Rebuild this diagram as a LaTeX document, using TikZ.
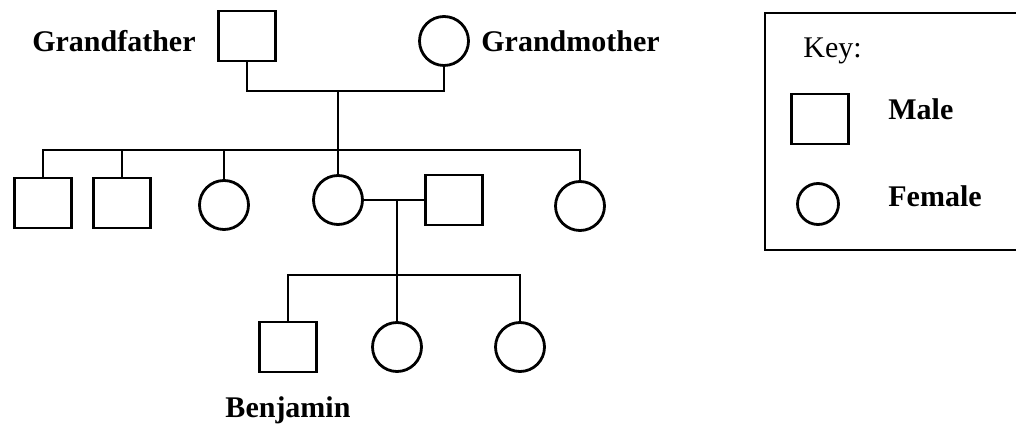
\documentclass[tikz,border=0pt]{standalone}
\usepackage{fontspec}
\setmainfont{Liberation Serif}
\usepackage{tikz}

\begin{document}
\begin{tikzpicture}[x=0.5pt,y=-0.5pt,line width=1.4pt,
    male/.style={rectangle,draw=black,minimum width=28.5pt,minimum height=25pt,inner sep=0pt},
    female/.style={circle,draw=black,minimum size=24.5pt,inner sep=0pt},
    lbl/.style={inner sep=0pt,font=\fontsize{15}{18}\selectfont\bfseries}]

      \useasboundingbox (0,0) rectangle (1016,426);

      % grandparents
      \node[male] (a) at (247,36){};
      \node[female] (b) at (444,41){};
      \node[lbl,anchor=base east] (ta) at (197,52){Grandfather};
      \node[lbl,anchor=base west] (tb) at (480,52){Grandmother};
      \coordinate (p) at (338,91);
      \coordinate (q) at (338,150);

      % children
      \node[male] (c) at (43,203){};
      \node[male] (d) at (122,203){};
      \node[female] (e) at (224,205){};
      \node[female] (f) at (338,200){};
      \node[male] (g) at (454,200){};
      \node[female] (h) at (580,206){};
      \coordinate (r) at (397,200);
      \coordinate (s) at (397,275);

      % grandchildren
      \node[male] (i) at (288,347){};
      \node[female] (j) at (397,347){};
      \node[female] (k) at (520,347){};
      \node[lbl] (ti) at (288,410){Benjamin};

      % key
      \coordinate (u) at (765,13);
      \coordinate (v) at (765,250);
      \node[inner sep=0pt,font=\fontsize{15}{18}\selectfont,anchor=base west] (tk) at (802,58){Key:};
      \node[male] (m) at (820,119){};
      \node[female,minimum size=20.5pt] (n) at (818,204){};
      \node[lbl,anchor=base west] (tm) at (887,120){Male};
      \node[lbl,anchor=base west] (tn) at (887,207){Female};

      \draw (a.south) |- (p) -| (b.south);
      \draw (p) -- (q);
      \draw (c.north) |- (q) -| (h.north);
      \draw (d.north) -- (d.north |- q);
      \draw (e.north) -- (e.north |- q);
      \draw (f.north) -- (q);
      \draw (f.east) -- (g.west);
      \draw (r) -- (s);
      \draw (i.north) |- (s) -| (k.north);
      \draw (j.north) -- (s);
      \draw (u -| 1016,0) -- (u) -- (v) -- (v -| 1016,0);
    \end{tikzpicture}
\end{document}
